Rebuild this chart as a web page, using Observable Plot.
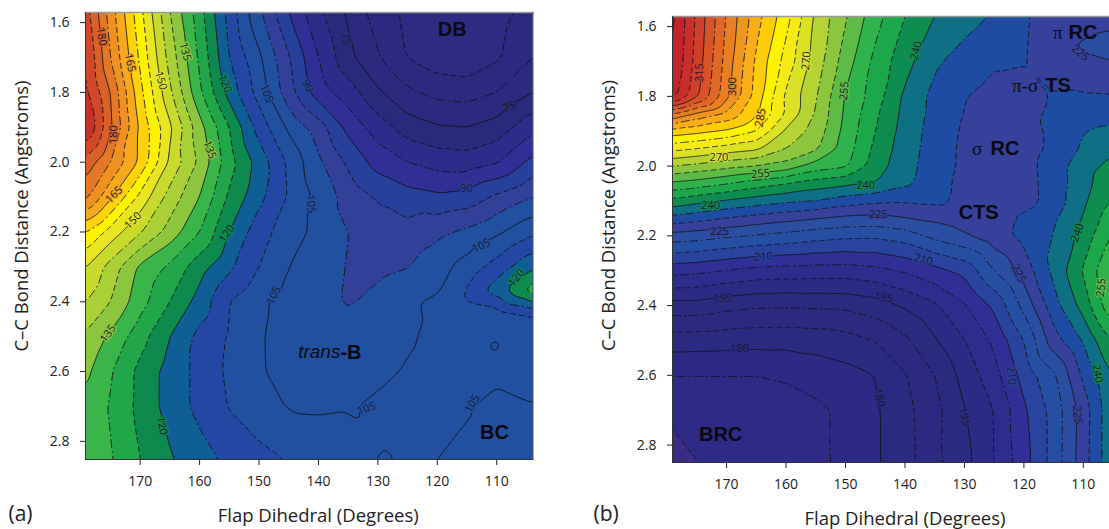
<!DOCTYPE html>
<html><head><meta charset="utf-8">
<style>html,body{margin:0;padding:0;background:#fff;overflow:hidden;width:1109px;height:529px}
#a,#b{position:absolute;top:0}#a{left:0}#b{left:590px}</style>
<script src="https://cdn.jsdelivr.net/npm/d3@7"></script>
<script src="https://cdn.jsdelivr.net/npm/@observablehq/plot@0.6"></script>
</head><body><div id="a"></div><div id="b"></div>
<script>
// Flap dihedral (degrees) columns, shared row layout per panel; energies
const colsA = [179,175,170,165,160,155,150,145,140,135,130,125,120,115,110,104];
const colsB = [179,175,170,165,160,155,150,145,140,135,130,125,120,115,110,105.6];
const rowsA = [1.57,1.7,1.8,1.9,2.0,2.1,2.2,2.3,2.4,2.5,2.6,2.7,2.85];
const rowsB = [1.57,1.7,1.8,1.85,1.9,1.95,2.0,2.05,2.1,2.15,2.2,2.3,2.4,2.5,2.6,2.7,2.85];

const a157=[187,172.5,156.5,140,127,113,101,90,81,74,67.5,64,62.5,62,63,67];
const a170=[190,175,159,143,129,115,106,95.5,85,76.5,70.5,64.8,62,61,64.2,70];
const a180=[191,180,161.5,146,131,118,108,97,87.5,82.5,75.8,71,68.5,68,70,75];
const a190=[195,181,164,151,137,125,113,104,97.5,88.5,82.5,77.5,75.5,75,77,83.5];
const a200=[183,175,164,149,139,127,118,109,101,94,88,85,83,82.5,84.5,91.5];
const a210=[176,166,153.5,143,135,124,116.5,109.5,103.5,98,94.5,92,91,92,96,100];
const a220=[160,153,145.5,138,130,120,112,107.5,103.5,100,97,96.8,98.8,101,104,109];
const a230=[150,143,134,129,122,116,110,105,102.5,99.7,98.5,99.8,103,107,112,119];
const a240=[145,140,132,125,118,110,106,103,102.5,99.3,102,104.3,106,110,112,120.5];
const a250=[139,134,127,120,113.5,109.5,105.5,103,103,103.5,104,104.7,105.6,105.8,105.5,106.2];
const a260=[136,130.5,123.5,118,113.5,109,105.6,103,103.5,104,104.5,105.2,105.8,105.8,105.6,105.8];
const a270=[133.5,129.5,123.5,118,113.5,109.7,107,104.7,104.6,104.8,105.4,105.8,105.9,105.2,104.3,104.9];
const a285=[135,130.5,125,120.5,117,113.8,111.5,109.7,107,106,105.1,105.4,105,104.5,104,104];
const gridA=[a157,a170,a180,a190,a200,a210,a220,a230,a240,a250,a260,a270,a285];
// extra readings: ridge at the right edge, small dips near BC
const extraA=[[120,2.368,104.5],[115,2.368,110.5],[110,2.368,117.5],[106,2.368,124],[104,2.368,128],
 [115,2.44,106.5],[110,2.44,107.5],[104,2.44,110],
 [110.4,2.528,103.5],[112,2.528,105.8],[108.8,2.528,105.8],[110.4,2.5,105.8],[110.4,2.556,105.8],
 [128.9,2.85,103.8],[128.9,2.81,105.3],[127,2.85,105.4]];

const b157=[331,319,304.5,292,282,269,260.5,252,245,240,237,234.5,230.5,228,227.5,227];
const b170=[330,318,303,289,278,267.8,257.5,248.6,241.8,235.8,233,230.6,230.2,228,225.8,225.2];
const b180=[327,316,301.5,288,274,265.5,254.5,247.5,239,233.5,230.2,228.3,228.5,230.3,230.5,230.3];
const b185=[305,299,294,286,274.5,264.5,254,246,238.5,233.4,229.8,228,229,230.6,233,233];
const b190=[288,286.5,284.4,280,269,263,253.3,245,237.9,232.9,229.3,227.8,228,231,234.7,236];
const b195=[276.5,275,272.7,271,265,261,252.5,243.8,237.4,232.6,229,227.6,227.8,231,235.7,239];
const b200=[265,263.5,261.5,260,258,252.7,251,242.5,236.9,232.4,229,227.5,228,232.5,238,241];
const b205=[254,252.7,250.3,247.5,245,242.5,241,240,236,232,228.5,227.3,228,232.2,237.9,243.5];
const b210=[243.5,241.5,239.4,237.6,236,235,232.5,231,230.6,231.2,228.5,227,227.8,232.1,239,245];
const b215=[233,231.7,229.7,228,226.5,225.1,223.8,223.5,224.8,226,227.7,226.7,231,234.2,240.3,247.5];
const b220=[223,222.2,220.8,219.5,218.4,217,216,215.8,217.4,221.4,224.3,228,231.5,235.1,242,250];
const b230=[206.8,206.2,204.7,203.3,202.9,202.6,202.5,203.5,205.5,208.3,211.3,220,227,236.2,245.5,254.5];
const b240=[193,193,191.5,190.7,190.5,190.8,191,192.5,195.6,199.2,204.5,211,221.5,233,242,253];
const b250=[182.5,182.3,182,181.7,181.6,182,183,185.2,189,194.4,199.8,206,215,227.9,235.5,244.6];
const b260=[175,175,175,175,175.6,177,178.3,180,184.6,190,196.8,203.2,211.9,219,231,239.5];
const b270=[171.6,171.6,171.8,172,173,174,176,179.3,183.5,188.4,194.8,200.1,209.1,216.9,227.4,238];
const b285=[167,170,171.5,172,172.8,173.8,176.2,179.3,183.2,188.6,193.4,200,208,217,227.7,238];
const gridB=[b157,b170,b180,b185,b190,b195,b200,b205,b210,b215,b220,b230,b240,b250,b260,b270,b285];
const extraB=[[105.6,1.655,223],[110,1.655,224.4]];

// contour levels and band colours (colour i fills from level i up to level i+1)
const levelsA=[0,65,70,75,80,85,90,95,100,105,110,115,120,125,130,135,140,145,150,155,160,165,170,175,180,185,190,195];
const coloursA=["#2d2b82","#2c2a80","#2b2a7e","#2a2a7c","#2d2c8a","#2f2f96","#27409c","#33409a","#2250a0","#2250a0","#2347a3","#0f5f96","#0f8a4e","#22a64a","#3ab54a","#8cc63f","#a9d037","#c8da2c","#e8e620","#fff200","#ffd20a","#f7a91c","#ee9022","#e37826","#d96028","#cf4829","#c6302b","#bf1f2d"];
const levelsB=[0,170,175,180,185,190,195,200,205,210,215,220,225,230,235,240,245,250,255,260,265,270,275,280,285,290,295,300,305,310,315,320,325,330];
const coloursB=["#3a2b85","#2e2a85","#2c2a85","#2a2a80","#2b2a80","#2a2b7e","#2b2a85","#2d2d8e","#2f2f96","#29439f","#244fa3","#2b4ea3","#35419b","#1e4ca2","#0f6f85","#0f8c50","#1ca74b","#2fb34a","#5dbb46","#8cc63f","#b5d334","#dbe226","#f5ec16","#fff200","#ffcc0a","#f9ad18","#f0951f","#e87f23","#df6826","#d85428","#d03f29","#c92f2a","#c2232c","#ba1a2e"];

// inline contour labels: dihedral, distance, text, rotation
const labelsA=[[176.5,1.64,"180",80],[171.7,1.715,"165",78],[166.5,1.766,"150",75],[162.4,1.683,"135",75],[155.7,1.775,"120",70],[148.7,1.803,"105",70],[158.3,1.964,"135",70],[174.5,1.921,"180",-90],[174.4,2.093,"165",-45],[171.2,2.167,"150",-45],[155.4,2.205,"120",-55],[175.4,2.491,"135",-55],[147.5,2.382,"105",-65],[166.3,2.755,"120",80],[141.8,1.781,"90",60],[135.3,1.646,"75",80],[141.3,2.119,"105",85],[115.1,2.076,"90",0],[107.9,1.841,"75",-25],[112.6,2.239,"105",-25],[131.9,2.706,"105",-20],[114.1,2.692,"105",-60],[106.7,2.331,"120",-50]];
const labelsB=[[174.5,1.732,"315",-90],[169,1.772,"300",-90],[164.3,1.861,"285",-80],[156.6,1.698,"270",-85],[150.2,1.784,"255",-85],[171.3,1.976,"270",0],[164.3,2.022,"255",-5],[172.7,2.113,"240",0],[171.2,2.188,"225",0],[163.8,2.26,"210",-3],[138.1,1.669,"240",-75],[110.5,1.675,"225",40],[146.6,2.056,"240",0],[144.5,2.139,"225",0],[136.9,2.268,"210",15],[111,2.191,"240",-70],[107,2.348,"255",-85],[120.9,2.308,"225",65],[143.6,2.377,"195",10],[122.1,2.601,"210",85],[144.3,2.664,"180",80],[130,2.718,"195",75],[111,2.713,"225",85],[107.6,2.595,"240",80],[170.7,2.38,"195",0],[167.8,2.523,"180",0]];

// state annotations: dihedral, distance, text, anchor, style
const notesA=[[117.5,1.62,"DB","middle","b"],[110.4,2.775,"BC","middle","b"],[136.3,2.545,"trans","end","i"],[136.3,2.545,"-B","start","b"]];
const notesB=[[113.5,1.617,"π","end","s"],[112.5,1.617,"RC","start","b"],[117.6,1.769,"π-σ","end","s"],[116.4,1.769,"TS","start","b"],[127,1.95,"σ","end","s"],[125.6,1.95,"RC","start","b"],[127.6,2.133,"CTS","middle","b"],[171,2.77,"BRC","middle","b"]];

const xTicks=[170,160,150,140,130,120,110];
const yTicks=[1.6,1.8,2.0,2.2,2.4,2.6,2.8];

// rendering pad: the outer rows and columns repeated outside the frame, so the raster blur has no edge falloff
function points(cols,rows,grid,extra,px,py){
  const out=[];
  const C=[cols[0]+px,...cols,cols[cols.length-1]-px];
  const R=[rows[0]-py,...rows,rows[rows.length-1]+py];
  R.forEach((r,i)=>C.forEach((c,j)=>{
    const row=grid[Math.max(0,Math.min(rows.length-1,i-1))];
    out.push({x:c,y:r,v:row[Math.max(0,Math.min(cols.length-1,j-1))]});
  }));
  extra.forEach(([x,y,v])=>out.push({x,y,v}));
  return out;
}
function panel(o){
  const px=8,py=.14;
  const pts=points(o.cols,o.rows,o.grid,o.extra,px,py);
  const top=o.levels.filter(v=>v>0);
  const bounds={x1:o.xd[0]+px,x2:o.xd[1]-px,y1:o.yd[0]+py,y2:o.yd[1]-py};
  const base={x:"x",y:"y",value:"v",interpolate:"barycentric",pixelSize:1,blur:o.blur,clip:true,...bounds};
  const line=(res,dash)=>Plot.contour(pts,{...base,fill:"none",stroke:"#111",strokeWidth:.85,strokeDasharray:dash,
    thresholds:top.filter(v=>v%15===res)});
  const band=t=>{let i=0;o.levels.forEach((l,k)=>{if(+t>=l)i=k});return o.colours[i]};
  const fam={b:"Liberation Sans",i:"Liberation Sans",s:"Liberation Serif"};
  const noteMark=(s,anchor)=>Plot.text(o.notes.filter(d=>d[4]===s&&d[3]===anchor),{x:d=>d[0],y:d=>d[1],text:d=>d[2],
    textAnchor:anchor,fontFamily:fam[s],fontWeight:s==="b"?"bold":"normal",fontStyle:s==="i"?"italic":"normal",
    fontSize:s==="b"?20:19,fill:"#0a0a14"});
  return Plot.plot({
    width:o.width,height:529,marginLeft:o.ml,marginTop:o.mt,marginRight:o.mr,marginBottom:o.mb,
    style:{fontFamily:"'Open Sans',sans-serif",fontSize:"14px",color:"#222",background:"transparent"},
    x:{domain:o.xd,ticks:xTicks,tickSize:6,tickPadding:11,label:null},
    y:{domain:o.yd,ticks:yTicks,tickSize:5,tickPadding:11,label:null,tickFormat:d3.format(".1f")},
    color:{type:"ordinal",domain:o.levels,range:o.colours},
    marks:[
      Plot.contour(pts,{...base,fill:"value",thresholds:o.levels}),
      line(0,null),line(5,"6,3"),line(10,"9,3,2,3"),
      Plot.frame({anchor:"top",stroke:"#999",strokeWidth:1.5}),
      Plot.frame({anchor:"left",stroke:"#333"}),
      Plot.frame({anchor:"bottom",stroke:"#333"}),
      Plot.frame({anchor:"right",stroke:"#556"}),
      Plot.text(o.labels,{x:d=>d[0],y:d=>d[1],text:d=>d[2],rotate:d=>d[3],fontSize:11,fill:"#1a1a2a",
        stroke:{value:d=>band(d[2]),scale:null},strokeWidth:2.5,clip:true}),
      ...["b","i","s"].flatMap(s=>["start","middle","end"].map(a=>noteMark(s,a))),
      Plot.text(["Flap Dihedral (Degrees)"],{frameAnchor:"bottom",dx:o.xdx,dy:o.xdy,lineAnchor:"middle",fontSize:18.5}),
      Plot.text(["C–C Bond Distance (Angstroms)"],{frameAnchor:"left",dx:o.ydx,dy:o.ydy,rotate:-90,fontSize:18.5,lineAnchor:"middle",textAnchor:"middle"}),
      Plot.text([o.tag],{frameAnchor:"bottom-left",dx:o.tdx,dy:o.tdy,textAnchor:"start",lineAnchor:"middle",fontSize:21})
    ]
  });
}
document.getElementById("a").append(panel({cols:colsA,rows:rowsA,grid:gridA,extra:extraA,levels:levelsA,colours:coloursA,labels:labelsA,notes:notesA,blur:3,
  width:545,ml:85,mt:12,mr:12.5,mb:70,xd:[179.2,103.9],yd:[2.852,1.571],xdx:9,xdy:57,ydx:-63,ydy:-20,tag:"(a)",tdx:-77,tdy:55}));
document.getElementById("b").append(panel({cols:colsB,rows:rowsB,grid:gridB,extra:extraB,levels:levelsB,colours:coloursB,labels:labelsB,notes:notesB,blur:3,
  width:519,ml:82,mt:16,mr:0,mb:67,xd:[179.1,105.6],yd:[2.85,1.571],xdx:14,xdy:57,ydx:-63,ydy:-24,tag:"(b)",tdx:-79,tdy:52}));
</script></body></html>
